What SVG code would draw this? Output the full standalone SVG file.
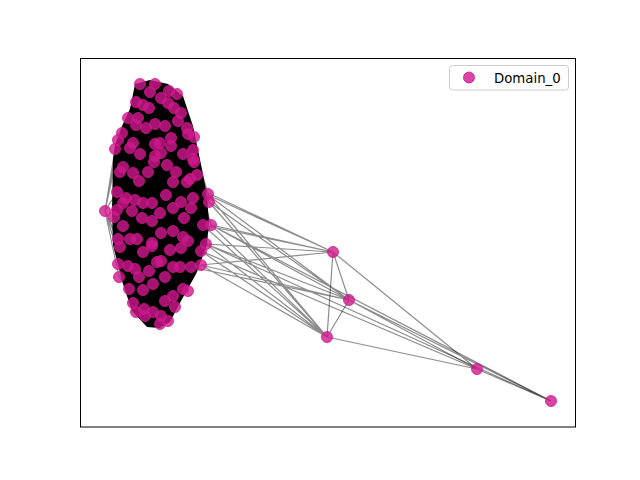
<svg xmlns="http://www.w3.org/2000/svg" width="640" height="480" viewBox="0 0 640 480">
<style>
.e{stroke:#000;stroke-opacity:0.45;stroke-width:1.2;fill:none}
.n{fill:#d0188c;fill-opacity:0.8;stroke:#d0188c;stroke-opacity:0.8;stroke-width:1}
.t{font-family:"DejaVu Sans",sans-serif;font-size:13.3px;fill:#000}
</style>
<rect width="640" height="480" fill="#fff"/>
<g id="connectors">
<polygon points="135,84 150,80 168,84 183,96 193,126 200,160 206,190 209,220 207,245 196,274 181,301 170,322 160,328 147,327 132,311 122,281 113,245 112,210 113,160 115,145 122,126 130,109" fill="#000"/>
<path class="e" d="M105,211L117,192M105,211L118,239M105,211L115,149M105,211L120,247M105,211L133,303M105,211L122,133M105,211L136,312M105,211L118,140M105,211L119,277M140,84L128,118M140,84L122,133M140,84L115,149M155,84L187,128M155,84L194,137M169,91L193,150M177,94L194,137M177,94L208,193M160,324L206,244M160,324L201,265M160,324L119,277M160,324L129,289M168,321L206,244M168,321L211,225M145,316L118,264M136,312L118,239M208,193L193,150M209,202L194,137M211,225L193,159M206,244L208,193"/>
<path class="e" d="M208,195L333,252M208,195L349,300M208,195L327,337M209,202L327,337M209,202L349,300M211,225L333,252M211,225L349,300M211,225L551,401M203,225L333,252M206,244L333,252M206,244L349,300M206,244L327,337M201,251L327,337M201,265L333,252M201,265L349,300M201,265L327,337M191,267L349,300M201,251L477,369M208,193L333,252M209,202L349,300M211,225L327,337M206,244L551,401M203,225L327,337"/>
<path class="e" d="M333,252L349,300M333,252L327,337M349,300L327,337M333,252L477,369M349,300L477,369M349,300L551,401M327,337L477,369M477,369L551,401"/>
</g>
<g id="cluster">
<g id="n1"><circle class="n" cx="140" cy="84" r="5.5"/></g>
<g id="n2"><circle class="n" cx="155" cy="84" r="5.5"/></g>
<g id="n3"><circle class="n" cx="150" cy="92" r="5.5"/></g>
<g id="n4"><circle class="n" cx="169" cy="91" r="5.5"/></g>
<g id="n5"><circle class="n" cx="177" cy="94" r="5.5"/></g>
<g id="n6"><circle class="n" cx="161" cy="98" r="5.5"/></g>
<g id="n7"><circle class="n" cx="136" cy="102" r="5.5"/></g>
<g id="n8"><circle class="n" cx="143" cy="105" r="5.5"/></g>
<g id="n9"><circle class="n" cx="149" cy="108" r="5.5"/></g>
<g id="n10"><circle class="n" cx="168" cy="103" r="5.5"/></g>
<g id="n11"><circle class="n" cx="174" cy="108" r="5.5"/></g>
<g id="n12"><circle class="n" cx="181" cy="113" r="5.5"/></g>
<g id="n13"><circle class="n" cx="128" cy="118" r="5.5"/></g>
<g id="n14"><circle class="n" cx="138" cy="118" r="5.5"/></g>
<g id="n15"><circle class="n" cx="136" cy="125" r="5.5"/></g>
<g id="n16"><circle class="n" cx="146" cy="128" r="5.5"/></g>
<g id="n17"><circle class="n" cx="155" cy="124" r="5.5"/></g>
<g id="n18"><circle class="n" cx="178" cy="121" r="5.5"/></g>
<g id="n19"><circle class="n" cx="165" cy="126" r="5.5"/></g>
<g id="n20"><circle class="n" cx="187" cy="128" r="5.5"/></g>
<g id="n21"><circle class="n" cx="188" cy="134" r="5.5"/></g>
<g id="n22"><circle class="n" cx="194" cy="137" r="5.5"/></g>
<g id="n23"><circle class="n" cx="171" cy="138" r="5.5"/></g>
<g id="n24"><circle class="n" cx="122" cy="133" r="5.5"/></g>
<g id="n25"><circle class="n" cx="118" cy="140" r="5.5"/></g>
<g id="n26"><circle class="n" cx="133" cy="143" r="5.5"/></g>
<g id="n27"><circle class="n" cx="130" cy="148" r="5.5"/></g>
<g id="n28"><circle class="n" cx="115" cy="149" r="5.5"/></g>
<g id="n29"><circle class="n" cx="140" cy="154" r="5.5"/></g>
<g id="n30"><circle class="n" cx="155" cy="144" r="5.5"/></g>
<g id="n31"><circle class="n" cx="155" cy="156" r="5.5"/></g>
<g id="n32"><circle class="n" cx="171" cy="146" r="5.5"/></g>
<g id="n33"><circle class="n" cx="160" cy="143" r="5.5"/></g>
<g id="n34"><circle class="n" cx="161" cy="153" r="5.5"/></g>
<g id="n35"><circle class="n" cx="183" cy="154" r="5.5"/></g>
<g id="n36"><circle class="n" cx="193" cy="150" r="5.5"/></g>
<g id="n37"><circle class="n" cx="193" cy="159" r="5.5"/></g>
<g id="n38"><circle class="n" cx="123" cy="167" r="5.5"/></g>
<g id="n39"><circle class="n" cx="120" cy="172" r="5.5"/></g>
<g id="n40"><circle class="n" cx="133" cy="173" r="5.5"/></g>
<g id="n41"><circle class="n" cx="148" cy="172" r="5.5"/></g>
<g id="n42"><circle class="n" cx="139" cy="181" r="5.5"/></g>
<g id="n43"><circle class="n" cx="154" cy="162" r="5.5"/></g>
<g id="n44"><circle class="n" cx="117" cy="192" r="5.5"/></g>
<g id="n45"><circle class="n" cx="126" cy="198" r="5.5"/></g>
<g id="n46"><circle class="n" cx="123" cy="203" r="5.5"/></g>
<g id="n47"><circle class="n" cx="135" cy="200" r="5.5"/></g>
<g id="n48"><circle class="n" cx="143" cy="203" r="5.5"/></g>
<g id="n49"><circle class="n" cx="152" cy="203" r="5.5"/></g>
<g id="n50"><circle class="n" cx="105" cy="211" r="5.5"/></g>
<g id="n51"><circle class="n" cx="117" cy="210" r="5.5"/></g>
<g id="n52"><circle class="n" cx="132" cy="211" r="5.5"/></g>
<g id="n53"><circle class="n" cx="114" cy="217" r="5.5"/></g>
<g id="n54"><circle class="n" cx="142" cy="218" r="5.5"/></g>
<g id="n55"><circle class="n" cx="152" cy="221" r="5.5"/></g>
<g id="n56"><circle class="n" cx="123" cy="226" r="5.5"/></g>
<g id="n57"><circle class="n" cx="118" cy="239" r="5.5"/></g>
<g id="n58"><circle class="n" cx="130" cy="239" r="5.5"/></g>
<g id="n59"><circle class="n" cx="137" cy="239" r="5.5"/></g>
<g id="n60"><circle class="n" cx="152" cy="243" r="5.5"/></g>
<g id="n61"><circle class="n" cx="167" cy="165" r="5.5"/></g>
<g id="n62"><circle class="n" cx="176" cy="172" r="5.5"/></g>
<g id="n63"><circle class="n" cx="173" cy="182" r="5.5"/></g>
<g id="n64"><circle class="n" cx="187" cy="182" r="5.5"/></g>
<g id="n65"><circle class="n" cx="190" cy="179" r="5.5"/></g>
<g id="n66"><circle class="n" cx="197" cy="175" r="5.5"/></g>
<g id="n67"><circle class="n" cx="194" cy="162" r="5.5"/></g>
<g id="n68"><circle class="n" cx="166" cy="195" r="5.5"/></g>
<g id="n69"><circle class="n" cx="181" cy="202" r="5.5"/></g>
<g id="n70"><circle class="n" cx="173" cy="208" r="5.5"/></g>
<g id="n71"><circle class="n" cx="193" cy="198" r="5.5"/></g>
<g id="n72"><circle class="n" cx="191" cy="208" r="5.5"/></g>
<g id="n73"><circle class="n" cx="208" cy="194" r="5.5"/></g>
<g id="n74"><circle class="n" cx="209" cy="202" r="5.5"/></g>
<g id="n75"><circle class="n" cx="160" cy="213" r="5.5"/></g>
<g id="n76"><circle class="n" cx="184" cy="218" r="5.5"/></g>
<g id="n77"><circle class="n" cx="203" cy="225" r="5.5"/></g>
<g id="n78"><circle class="n" cx="211" cy="225" r="5.5"/></g>
<g id="n79"><circle class="n" cx="161" cy="233" r="5.5"/></g>
<g id="n80"><circle class="n" cx="173" cy="231" r="5.5"/></g>
<g id="n81"><circle class="n" cx="183" cy="237" r="5.5"/></g>
<g id="n82"><circle class="n" cx="188" cy="241" r="5.5"/></g>
<g id="n83"><circle class="n" cx="206" cy="244" r="5.5"/></g>
<g id="n84"><circle class="n" cx="120" cy="247" r="5.5"/></g>
<g id="n85"><circle class="n" cx="118" cy="264" r="5.5"/></g>
<g id="n86"><circle class="n" cx="128" cy="266" r="5.5"/></g>
<g id="n87"><circle class="n" cx="135" cy="269" r="5.5"/></g>
<g id="n88"><circle class="n" cx="143" cy="252" r="5.5"/></g>
<g id="n89"><circle class="n" cx="152" cy="246" r="5.5"/></g>
<g id="n90"><circle class="n" cx="149" cy="271" r="5.5"/></g>
<g id="n91"><circle class="n" cx="157" cy="262" r="5.5"/></g>
<g id="n92"><circle class="n" cx="119" cy="277" r="5.5"/></g>
<g id="n93"><circle class="n" cx="139" cy="277" r="5.5"/></g>
<g id="n94"><circle class="n" cx="153" cy="284" r="5.5"/></g>
<g id="n95"><circle class="n" cx="143" cy="290" r="5.5"/></g>
<g id="n96"><circle class="n" cx="129" cy="289" r="5.5"/></g>
<g id="n97"><circle class="n" cx="133" cy="303" r="5.5"/></g>
<g id="n98"><circle class="n" cx="136" cy="312" r="5.5"/></g>
<g id="n99"><circle class="n" cx="144" cy="309" r="5.5"/></g>
<g id="n100"><circle class="n" cx="145" cy="316" r="5.5"/></g>
<g id="n101"><circle class="n" cx="153" cy="312" r="5.5"/></g>
<g id="n102"><circle class="n" cx="160" cy="324" r="5.5"/></g>
<g id="n103"><circle class="n" cx="170" cy="250" r="5.5"/></g>
<g id="n104"><circle class="n" cx="181" cy="248" r="5.5"/></g>
<g id="n105"><circle class="n" cx="201" cy="251" r="5.5"/></g>
<g id="n106"><circle class="n" cx="161" cy="261" r="5.5"/></g>
<g id="n107"><circle class="n" cx="173" cy="267" r="5.5"/></g>
<g id="n108"><circle class="n" cx="180" cy="267" r="5.5"/></g>
<g id="n109"><circle class="n" cx="191" cy="267" r="5.5"/></g>
<g id="n110"><circle class="n" cx="201" cy="265" r="5.5"/></g>
<g id="n111"><circle class="n" cx="165" cy="277" r="5.5"/></g>
<g id="n112"><circle class="n" cx="183" cy="289" r="5.5"/></g>
<g id="n113"><circle class="n" cx="188" cy="291" r="5.5"/></g>
<g id="n114"><circle class="n" cx="173" cy="296" r="5.5"/></g>
<g id="n115"><circle class="n" cx="165" cy="301" r="5.5"/></g>
<g id="n116"><circle class="n" cx="175" cy="307" r="5.5"/></g>
<g id="n117"><circle class="n" cx="161" cy="316" r="5.5"/></g>
<g id="n118"><circle class="n" cx="168" cy="321" r="5.5"/></g>
</g>
<g id="nA"><circle class="n" cx="333" cy="252" r="5.5"/></g>
<g id="nB"><circle class="n" cx="349" cy="300" r="5.5"/></g>
<g id="nC"><circle class="n" cx="327" cy="337" r="5.5"/></g>
<g id="nD"><circle class="n" cx="477" cy="369" r="5.5"/></g>
<g id="nE"><circle class="n" cx="551" cy="401" r="5.5"/></g>
<rect x="80.5" y="58.5" width="495" height="368.5" fill="none" stroke="#000" stroke-width="1"/>
<g id="legend">
<rect x="449.5" y="65.5" width="119" height="24.5" rx="3" fill="#fff" fill-opacity="0.8" stroke="#ccc" stroke-width="1"/>
<circle class="n" cx="469" cy="77.5" r="5.5"/>
<text class="t" x="494" y="82.5">Domain_0</text>
</g>
</svg>
